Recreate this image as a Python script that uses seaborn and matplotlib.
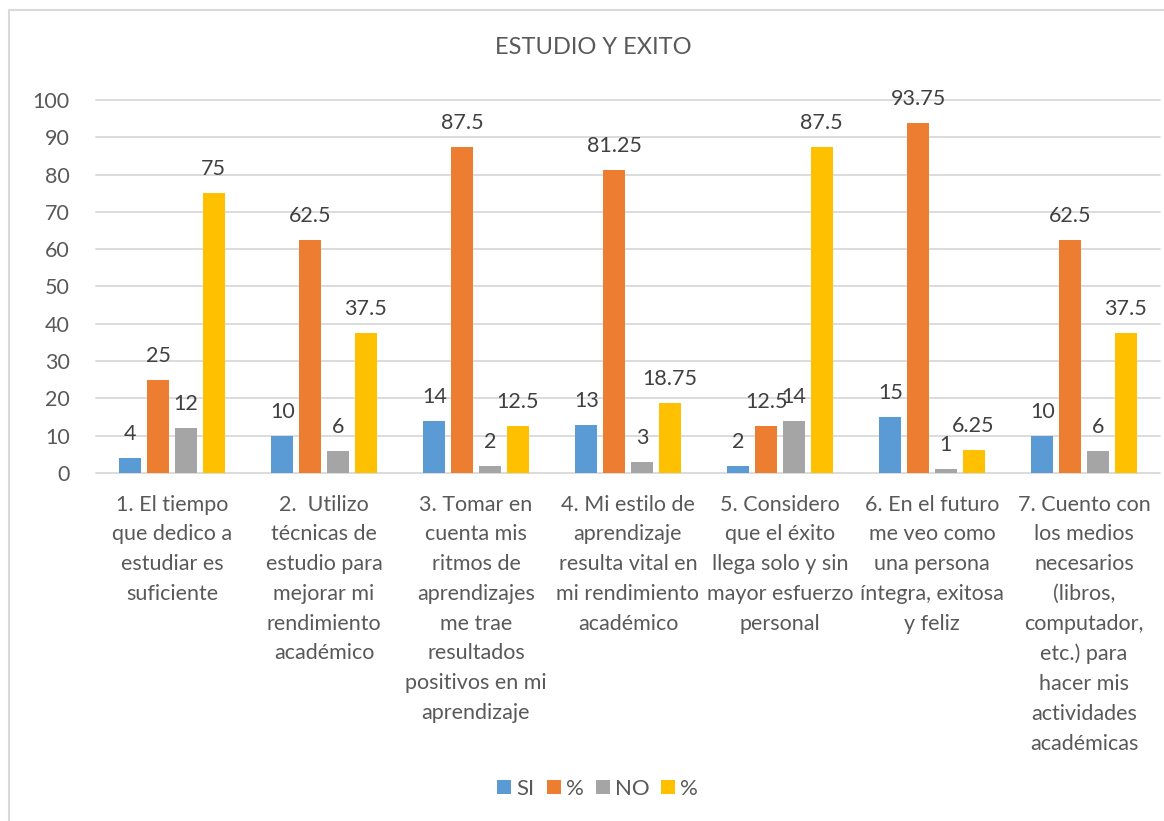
import matplotlib
matplotlib.use("Agg")
import matplotlib.pyplot as plt
import matplotlib.lines as mlines
import seaborn as sns
import pandas as pd

# ---------------- data ----------------
categories = [
    "1. El tiempo\nque dedico a\nestudiar es\nsuficiente",
    "2.  Utilizo\ntécnicas de\nestudio para\nmejorar mi\nrendimiento\nacadémico",
    "3. Tomar en\ncuenta mis\nritmos de\naprendizajes\nme trae\nresultados\npositivos en mi\naprendizaje",
    "4. Mi estilo de\naprendizaje\nresulta vital en\nmi rendimiento\nacadémico",
    "5. Considero\nque el éxito\nllega solo y sin\nmayor esfuerzo\npersonal",
    "6. En el futuro\nme veo como\nuna persona\níntegra, exitosa\ny feliz",
    "7. Cuento con\nlos medios\nnecesarios\n(libros,\ncomputador,\netc.) para\nhacer mis\nactividades\nacadémicas",
]
si_values = [4, 10, 14, 13, 2, 15, 10]
si_pct = [25, 62.5, 87.5, 81.25, 12.5, 93.75, 62.5]
no_values = [12, 6, 2, 3, 14, 1, 6]
no_pct = [75, 37.5, 12.5, 18.75, 87.5, 6.25, 37.5]
series_labels = ["SI", "%", "NO", "%"]
title = "ESTUDIO Y EXITO"
y_ticks = [0, 10, 20, 30, 40, 50, 60, 70, 80, 90, 100]

series_keys = ["s0", "s1", "s2", "s3"]
series_data = [si_values, si_pct, no_values, no_pct]
colors = ["#5B9BD5", "#ED7D31", "#A5A5A5", "#FFC000"]

rows = []
for key, vals in zip(series_keys, series_data):
    for cat, v in zip(categories, vals):
        rows.append({"category": cat, "series": key, "value": v})
df = pd.DataFrame(rows)

# ---------------- style ----------------
sns.set_theme(style="white")
plt.rcParams["font.family"] = ["Lato", "DejaVu Sans"]

W, H = 1164, 821
fig = plt.figure(figsize=(W / 100, H / 100), dpi=100)
fig.patch.set_facecolor("white")

left_px, right_px, top_px, bottom_px = 96, 1160, 100, 473
ax = fig.add_axes([left_px / W, 1 - bottom_px / H,
                   (right_px - left_px) / W, (bottom_px - top_px) / H])

sns.barplot(data=df, x="category", y="value", hue="series",
            hue_order=series_keys, order=categories,
            palette=dict(zip(series_keys, colors)), saturation=1,
            width=0.73, gap=0.2, linewidth=0, legend=False, ax=ax)

ax.set_ylim(0, 100)
ax.set_xlim(-0.5, len(categories) - 0.5)
ax.set_yticks(y_ticks)
ax.set_xlabel("")
ax.set_ylabel("")
for s in ax.spines.values():
    s.set_visible(False)
ax.set_axisbelow(True)
ax.yaxis.grid(True, color="#D9D9D9", linewidth=1.3)
for gl in ax.get_ygridlines():
    gl.set_clip_on(False)

fs = 15.5
ax.tick_params(axis="y", length=0, pad=19, labelsize=fs, labelcolor="#595959")
ax.tick_params(axis="x", length=0, pad=15.5, labelsize=fs, labelcolor="#595959")
for t in ax.get_xticklabels():
    t.set_linespacing(1.61)
    t.set_verticalalignment("top")
    t.set_horizontalalignment("center")
    t.set_multialignment("center")

for cont in ax.containers:
    ax.bar_label(cont, labels=[f"{v:g}" for v in cont.datavalues],
                 padding=10, fontsize=fs, color="#404040")

fig.text(593 / W, 1 - 48 / H, title, ha="center", va="center",
         fontsize=17, color="#595959")

handles = [mlines.Line2D([], [], marker="s", linestyle="none", markersize=10,
                         markerfacecolor=c, markeredgewidth=0) for c in colors]
leg = fig.legend(handles, series_labels, loc="center", ncol=4,
                 bbox_to_anchor=(598 / W, 1 - 789 / H), frameon=False,
                 fontsize=16, handlelength=0.6,
                 handletextpad=0.25, columnspacing=0.55, labelcolor="#595959",
                 borderpad=0.2)

# chart border (partly cropped in reference)
fig.add_artist(mlines.Line2D([9 / W, 1.0], [1 - 10 / H, 1 - 10 / H],
                             transform=fig.transFigure, color="#D9D9D9", lw=1.5))
fig.add_artist(mlines.Line2D([9 / W, 9 / W], [1 - 10 / H, 0.0],
                             transform=fig.transFigure, color="#D9D9D9", lw=1.5))

fig.savefig("out.png", dpi=100)
